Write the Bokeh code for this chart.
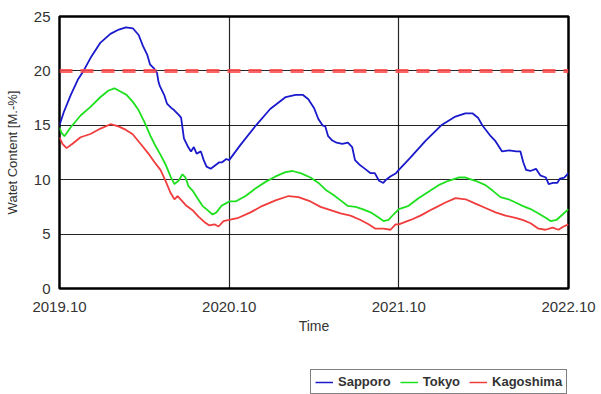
from bokeh.plotting import figure
from bokeh.layouts import column
from bokeh.models import Legend, LegendItem, FixedTicker, Span
from bokeh.embed import file_html
from bokeh.resources import INLINE

# x: months since 2019.10
sapporo = [(0, 15.0), (0.3, 16.2), (0.8, 17.8), (1.3, 19.2), (1.7, 20.0), (2.2, 21.2), (2.9, 22.6),
           (3.6, 23.4), (4.2, 23.8), (4.7, 24.0), (5.2, 23.9), (5.6, 23.3), (5.9, 22.3), (6.2, 21.5),
           (6.4, 20.6), (6.7, 20.2), (6.9, 19.8), (7.0, 19.0), (7.1, 18.6), (7.4, 17.8), (7.6, 17.0),
           (7.9, 16.6), (8.1, 16.4), (8.4, 16.0), (8.6, 15.7), (8.8, 13.8), (9.1, 13.0), (9.3, 12.6),
           (9.5, 13.0), (9.7, 12.4), (10.0, 12.6), (10.2, 11.8), (10.4, 11.2), (10.7, 11.0), (11.0, 11.3),
           (11.3, 11.6), (11.5, 11.6), (11.8, 11.9), (12.0, 11.8), (12.8, 13.2), (13.9, 15.0), (14.9, 16.5),
           (16.0, 17.6), (16.7, 17.8), (17.2, 17.8), (17.6, 17.4), (18.0, 16.6), (18.3, 15.6), (18.6, 15.0),
           (18.8, 14.9), (19.0, 14.0), (19.3, 13.6), (19.6, 13.4), (20.0, 13.3), (20.4, 13.4), (20.7, 13.0),
           (20.9, 11.8), (21.2, 11.4), (21.4, 11.2), (21.7, 10.9), (22.0, 10.6), (22.3, 10.6), (22.6, 9.9),
           (22.9, 9.7), (23.1, 10.0), (23.4, 10.3), (23.8, 10.6), (24.0, 10.9), (24.8, 12.0), (25.9, 13.6),
           (27.0, 15.0), (28.0, 15.8), (28.7, 16.1), (29.2, 16.1), (29.6, 15.7), (29.9, 15.0), (30.2, 14.5),
           (30.5, 14.0), (30.8, 13.6), (31.1, 13.0), (31.3, 12.6), (31.8, 12.7), (32.3, 12.6), (32.6, 12.6),
           (32.8, 11.6), (33.0, 10.9), (33.3, 10.8), (33.7, 11.0), (34.0, 10.4), (34.4, 10.2), (34.6, 9.6),
           (34.9, 9.7), (35.2, 9.7), (35.4, 10.1), (35.7, 10.2), (36.0, 10.6)]

tokyo = [(0, 14.8), (0.14, 14.3), (0.35, 14.0), (0.78, 14.8), (1.49, 15.9), (2.19, 16.7), (2.9, 17.6),
         (3.47, 18.2), (3.89, 18.4), (4.31, 18.1), (4.74, 17.8), (5.16, 17.2), (5.59, 16.4), (6.01, 15.3),
         (6.44, 14.0), (6.79, 13.1), (7.14, 12.3), (7.5, 11.4), (7.85, 10.3), (8.13, 9.6), (8.42, 9.9),
         (8.7, 10.5), (8.91, 10.2), (9.12, 9.4), (9.41, 9.0), (9.76, 8.3), (10.11, 7.6), (10.47, 7.2),
         (10.82, 6.8), (11.1, 7.0), (11.46, 7.6), (11.74, 7.8), (12.0, 8.0), (12.45, 8.0), (13.16, 8.5),
         (13.86, 9.2), (14.57, 9.8), (15.28, 10.3), (15.98, 10.7), (16.48, 10.8), (17.05, 10.6),
         (17.75, 10.2), (18.32, 9.7), (18.89, 9.0), (19.38, 8.6), (19.88, 8.1), (20.37, 7.6), (20.94, 7.5),
         (21.43, 7.3), (22.0, 7.0), (22.49, 6.6), (22.92, 6.2), (23.27, 6.3), (23.62, 6.8), (24.0, 7.3),
         (24.69, 7.6), (25.39, 8.3), (26.1, 8.9), (26.81, 9.5), (27.51, 9.9), (28.22, 10.2), (28.72, 10.2),
         (29.42, 9.9), (30.13, 9.5), (30.63, 9.0), (31.19, 8.4), (31.76, 8.2), (32.25, 7.9), (32.75, 7.6),
         (33.32, 7.3), (33.88, 6.9), (34.38, 6.5), (34.73, 6.2), (35.15, 6.3), (35.58, 6.8), (36.0, 7.3)]

kagoshima = [(0, 13.9), (0.21, 13.3), (0.5, 12.9), (0.92, 13.3), (1.49, 13.9), (2.19, 14.2), (2.9, 14.7),
             (3.61, 15.1), (4.17, 14.9), (4.67, 14.6), (5.16, 14.2), (5.73, 13.3), (6.29, 12.4), (6.72, 11.6),
             (7.14, 10.9), (7.5, 9.9), (7.85, 8.8), (8.13, 8.2), (8.35, 8.5), (8.63, 8.1), (8.98, 7.6),
             (9.41, 7.2), (9.83, 6.6), (10.26, 6.1), (10.61, 5.8), (10.96, 5.9), (11.25, 5.7), (11.6, 6.2),
             (12.0, 6.3), (12.66, 6.5), (13.51, 7.0), (14.36, 7.6), (15.28, 8.1), (16.2, 8.5), (16.9, 8.4),
             (17.75, 8.0), (18.46, 7.5), (19.17, 7.2), (19.88, 6.9), (20.58, 6.7), (21.29, 6.3), (21.86, 5.9),
             (22.35, 5.5), (22.92, 5.5), (23.41, 5.4), (23.77, 5.9), (24.0, 5.9), (24.83, 6.3), (25.53, 6.7),
             (26.38, 7.3), (27.3, 7.9), (28.01, 8.3), (28.72, 8.2), (29.42, 7.8), (30.13, 7.4), (30.84, 7.0),
             (31.55, 6.7), (32.25, 6.5), (32.75, 6.3), (33.32, 6.0), (33.88, 5.5), (34.38, 5.4), (34.87, 5.6),
             (35.29, 5.4), (35.65, 5.7), (36.0, 5.9)]

threshold = 20
x_ticks = [0, 12, 24, 36]
x_tick_labels = ["2019.10", "2020.10", "2021.10", "2022.10"]
y_ticks = [0, 5, 10, 15, 20, 25]
series_names = ["Sapporo", "Tokyo", "Kagoshima"]
series_colors = ["#1a1acc", "#1ee01e", "#f03c3c"]

FONT = "Liberation Sans"

p = figure(width=601, height=345, output_backend="svg", toolbar_location=None,
           x_range=(0, 36), y_range=(0, 25),
           min_border_left=59, min_border_right=33, min_border_top=16, min_border_bottom=57)
p.background_fill_color = "white"
p.border_fill_color = "white"
p.outline_line_color = "black"
p.outline_line_width = 2.5

p.xaxis.ticker = FixedTicker(ticks=x_ticks)
p.xaxis.major_label_overrides = {t: l for t, l in zip(x_ticks, x_tick_labels)}
p.yaxis.ticker = FixedTicker(ticks=y_ticks)
for ax in (p.xaxis, p.yaxis):
    ax.axis_line_color = None
    ax.major_tick_line_color = None
    ax.minor_tick_line_color = None
    ax.major_tick_out = 0
    ax.major_tick_in = 0
    ax.minor_tick_out = 0
    ax.minor_tick_in = 0
    ax.major_label_text_font = FONT
    ax.major_label_text_font_size = "15px"
    ax.major_label_text_color = "#333333"
    ax.axis_label_text_font = FONT
    ax.axis_label_text_font_style = "normal"
    ax.axis_label_text_color = "#333333"
p.xaxis.axis_label_text_font_size = "14px"
p.yaxis.axis_label_text_font_size = "13px"
p.xaxis.major_label_standoff = 13
p.yaxis.major_label_standoff = 9
p.xaxis.axis_label = "Time"
p.xaxis.axis_label_standoff = 3
p.yaxis.axis_label = "Watet Content [M.-%]"
p.yaxis.axis_label_standoff = 11

p.xgrid.ticker = FixedTicker(ticks=[12, 24])
p.ygrid.ticker = FixedTicker(ticks=[5, 10, 15, 20])
for g in (p.xgrid, p.ygrid):
    g.grid_line_color = "black"
    g.grid_line_width = 1.2
    g.grid_line_alpha = 0.85

p.add_layout(Span(location=threshold, dimension="width", line_color="#ff4a4a",
                  line_width=4, line_dash="13 8", line_alpha=0.85))

for name, data, col in zip(series_names, [sapporo, tokyo, kagoshima], series_colors):
    xs = [d[0] for d in data]
    ys = [d[1] for d in data]
    p.line(xs, ys, line_color=col, line_width=1.8)

# legend strip below the chart (frame aligned with the main chart's frame)
lg = figure(width=601, height=49, output_backend="svg", toolbar_location=None,
            x_range=(0, 1), y_range=(0, 1),
            min_border_left=0, min_border_right=0, min_border_top=0, min_border_bottom=0)
lg.axis.visible = False
lg.grid.visible = False
lg.outline_line_color = None
lg.background_fill_color = "white"
lg.border_fill_color = "white"
# legend-only renderers: their points lie outside the visible range
legend_renderers = [lg.line([-5, -4], [-5, -4], line_color=col, line_width=1.5) for col in series_colors]

legend = Legend(items=[LegendItem(label=n, renderers=[r]) for n, r in zip(series_names, legend_renderers)],
                orientation="horizontal", location=(251, 0),
                label_text_font=FONT, label_text_font_size="13px", label_text_color="#333333",
                label_text_font_style="bold",
                glyph_width=18, glyph_height=14, spacing=9, padding=4, margin=0,
                label_standoff=5, border_line_color="black", border_line_width=1.5,
                background_fill_alpha=1)
lg.add_layout(legend, "center")

layout = column(p, lg, spacing=0)
open("out.html", "w").write(file_html(layout, INLINE))
